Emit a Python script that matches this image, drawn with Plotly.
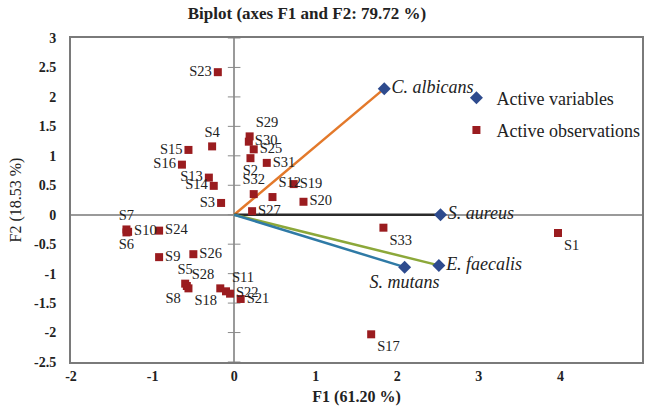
import plotly.graph_objects as go

# Observations (F1, F2)
obs_names = ["S1", "S2", "S3", "S4", "S5", "S6", "S7", "S8", "S9", "S10",
             "S11", "S12", "S13", "S14", "S15", "S16", "S17", "S18", "S19", "S20",
             "S21", "S22", "S23", "S24", "S25", "S26", "S27", "S28", "S29", "S30",
             "S31", "S32", "S33"]
obs_f1 = [3.97, 0.20, -0.16, -0.27, -0.60, -1.32, -1.32, -0.58, -0.92, -1.30,
          -0.10, 0.47, -0.31, -0.25, -0.56, -0.64, 1.68, -0.56, 0.73, 0.85,
          0.08, -0.05, -0.20, -0.92, 0.24, -0.50, 0.22, -0.17, 0.19, 0.18,
          0.40, 0.24, 1.83]
obs_f2 = [-0.31, 0.96, 0.20, 1.16, -1.17, -0.30, -0.25, -1.21, -0.72, -0.29,
          -1.30, 0.30, 0.63, 0.49, 1.10, 0.85, -2.03, -1.25, 0.52, 0.22,
          -1.43, -1.34, 2.42, -0.27, 1.11, -0.67, 0.06, -1.25, 1.33, 1.24,
          0.88, 0.35, -0.22]
obs_textpos = ["bottom right", "bottom center", "middle left", "top center", "top center",
               "bottom center", "top center", "bottom left", "middle right", "middle right",
               "top right", "top right", "middle left", "middle left", "middle left",
               "middle left", "bottom right", "bottom right", "middle right", "middle right",
               "middle right", "middle right", "middle left", "middle right", "middle right",
               "middle right", "middle right", "top left", "top right", "middle right",
               "middle right", "top center", "bottom right"]

# Active variables (F1, F2)
var_names = ["C. albicans", "S. aureus", "E. faecalis", "S. mutans"]
var_f1 = [1.84, 2.53, 2.51, 2.09]
var_f2 = [2.14, 0.00, -0.86, -0.89]
var_colors = ["#E3792B", "#2B2B2B", "#8CA83A", "#2F7AA6"]
var_textpos = ["middle right", "middle right", "middle right", "bottom center"]

y_ticks = [3, 2.5, 2, 1.5, 1, 0.5, 0, -0.5, -1, -1.5, -2, -2.5]
x_ticks = [-2, -1, 0, 1, 2, 3, 4, 5]

FONT = "Liberation Serif"

fig = go.Figure()

# small ticks on the vertical zero line
fig.add_trace(go.Scatter(
    x=[0] * len(y_ticks), y=y_ticks, mode="markers",
    marker=dict(symbol="line-ew", size=9, line=dict(color="#8a8a8a", width=1)),
    showlegend=False, hoverinfo="skip"))

# vectors
for name, x, y, c in zip(var_names, var_f1, var_f2, var_colors):
    fig.add_trace(go.Scatter(
        x=[0, x], y=[0, y], mode="lines",
        line=dict(color=c, width=2.5), showlegend=False, hoverinfo="skip"))

fig.add_trace(go.Scatter(
    x=var_f1, y=var_f2, mode="markers+text", text=var_names,
    textposition=var_textpos,
    textfont=dict(family=FONT, size=18, color="#222"),
    texttemplate="<i>%{text}</i>",
    marker=dict(symbol="diamond", size=10, color="#2E4B8E"),
    name="Active variables", legendgroup="v"))

fig.add_trace(go.Scatter(
    x=obs_f1, y=obs_f2, mode="markers+text", text=obs_names,
    textposition=obs_textpos,
    textfont=dict(family=FONT, size=14.5, color="#222"),
    marker=dict(symbol="square", size=8, color="#9A1C1F"),
    name="Active observations", legendgroup="o"))

fig.update_layout(
    width=645, height=406,
    margin=dict(l=71, r=3, t=38, b=44, autoexpand=False),
    paper_bgcolor="white", plot_bgcolor="white",
    font=dict(family=FONT, color="#222"),
    title=dict(text="<b>Biplot (axes F1 and F2: 79.72 %)</b>", x=0.476, xanchor="center",
               y=0.982, yanchor="top", font=dict(size=17, family=FONT)),
    showlegend=True,
    legend=dict(x=0.675, y=0.872, xanchor="left", yanchor="top",
                bgcolor="rgba(0,0,0,0)", traceorder="grouped", tracegroupgap=6,
                font=dict(family=FONT, size=18, color="#222"),
                itemwidth=30),
)

fig.update_xaxes(
    range=[-2, 5], tickvals=x_ticks, ticktext=["<b>%s</b>" % v for v in x_ticks],
    showgrid=False, zeroline=True, zerolinecolor="#9a9a9a", zerolinewidth=1.5,
    showline=True, mirror=True, linecolor="#7a7a7a", linewidth=2, ticks="",
    automargin=False,
    tickfont=dict(family=FONT, size=14, color="#222"),
    title=dict(text="<b>F1 (61.20 %)</b>", font=dict(family=FONT, size=16), standoff=9))

fig.update_yaxes(
    range=[-2.5, 3], tickvals=y_ticks, ticktext=["<b>%s</b>" % v for v in y_ticks],
    showgrid=False, zeroline=True, zerolinecolor="#9a9a9a", zerolinewidth=1.5,
    showline=True, mirror=True, linecolor="#7a7a7a", linewidth=2, ticks="",
    automargin=False, ticklabelstandoff=10,
    tickfont=dict(family=FONT, size=14, color="#222"),
    title=dict(text="F2 (18.53 %)", font=dict(family=FONT, size=16), standoff=8))

fig.write_html("out.html",
               config={"displayModeBar": False},
               post_script="document.body.style.margin='0';document.body.style.overflow='hidden';")
